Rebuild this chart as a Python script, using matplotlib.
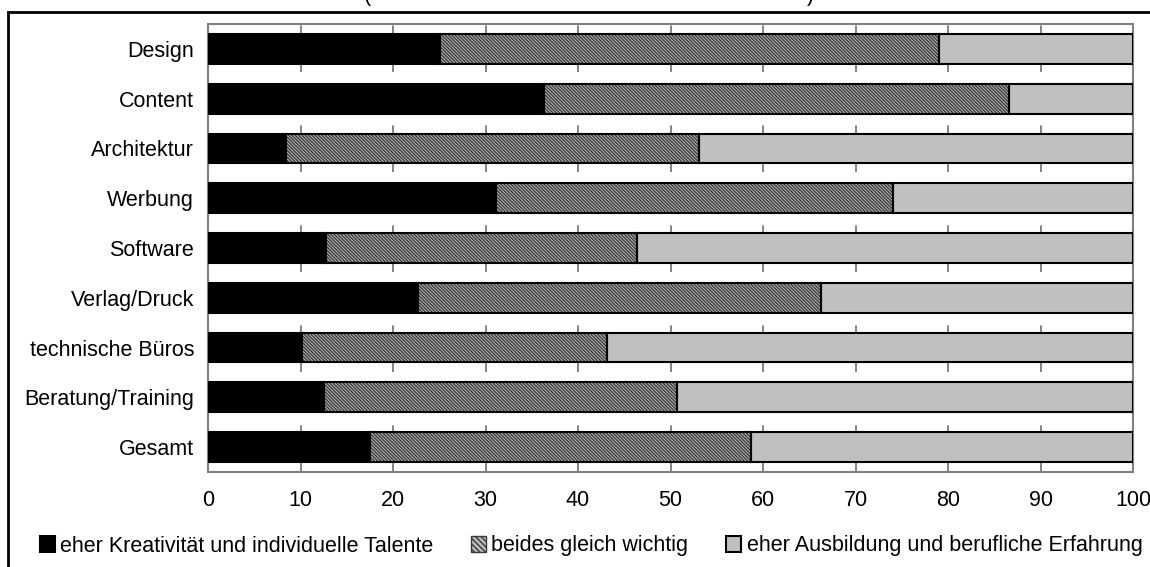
import matplotlib
matplotlib.use("Agg")
import matplotlib.pyplot as plt
import matplotlib.patches as mpatches
import numpy as np

plt.rcParams['font.family'] = ['Liberation Sans', 'DejaVu Sans']
plt.rcParams['hatch.linewidth'] = 1.0

categories = ["Design", "Content", "Architektur", "Werbung", "Software",
              "Verlag/Druck", "technische Büros", "Beratung/Training", "Gesamt"]
kreativ = [25.1, 36.3, 8.4, 31.1, 12.8, 22.7, 10.2, 12.5, 17.5]
beides_cum = [79.0, 86.6, 53.1, 74.1, 46.4, 66.3, 43.1, 50.7, 58.7]
beides = [b - k for b, k in zip(beides_cum, kreativ)]
ausbildung = [100 - b for b in beides_cum]
series_names = ["eher Kreativität und individuelle Talente",
                "beides gleich wichtig",
                "eher Ausbildung und berufliche Erfahrung"]
xticks = list(range(0, 101, 10))

FS = 15.5
W, H = 1150, 567
fig = plt.figure(figsize=(W / 100, H / 100), dpi=100)
ax = fig.add_axes([208 / W, 1 - 472 / H, (1133 - 208) / W, (472 - 24) / H])

y = np.arange(len(categories))
h = 0.6
hatch = '\\\\\\\\\\\\\\\\\\\\'
HFACE, HLINE = '#bcbcbc', '#3a3a3a'
ax.barh(y, kreativ, height=h, color='black', edgecolor='black', linewidth=1.5, zorder=3)
# hatched fill (grey lines) then black outline
ax.barh(y, beides, left=kreativ, height=h, color=HFACE, edgecolor=HLINE,
        hatch=hatch, linewidth=0, zorder=3)
ax.barh(y, beides, left=kreativ, height=h, fill=False, edgecolor='black',
        linewidth=1.5, zorder=4)
ax.barh(y, ausbildung, left=beides_cum, height=h, color='#c0c0c0', edgecolor='black',
        linewidth=1.5, zorder=3)

ax.set_xlim(0, 100)
ax.set_ylim(len(categories) - 0.5, -0.5)
ax.set_yticks(y)
ax.set_yticklabels(categories, fontsize=FS)
ax.set_xticks(xticks)
ax.set_xticklabels([str(t) for t in xticks], fontsize=FS)
ax.tick_params(axis='x', length=0, pad=13)
ax.tick_params(axis='y', length=0, pad=10)
ax.xaxis.grid(True, color='#707070', linewidth=1.2, linestyle=(0, (8, 12)), zorder=1)
ax.set_axisbelow(True)
for s in ax.spines.values():
    s.set_color('#808080')
    s.set_linewidth(1.5)

# outer frame
fig.patches.append(mpatches.Rectangle((8 / W, -0.2), 1.2, 0.2 + (1 - 12 / H),
                                      transform=fig.transFigure, fill=False,
                                      edgecolor='black', linewidth=2))
# clipped title remnants (only the bottoms of the parentheses are visible)
fig.text(367 / W, 1 - 1 / H, "(", fontsize=FS, ha='center', va='baseline')
fig.text(810 / W, 1 - 1 / H, ")", fontsize=FS, ha='center', va='baseline')

h1 = mpatches.Patch(facecolor='black', edgecolor='black', linewidth=1.5)
h2 = mpatches.Patch(facecolor=HFACE, edgecolor=HLINE, hatch='\\\\\\\\\\\\', linewidth=1.0)
h3 = mpatches.Patch(facecolor='#c0c0c0', edgecolor='black', linewidth=1.5)
fig.legend([h1, h2, h3], series_names, loc='center',
           bbox_to_anchor=(591 / W, 1 - 546 / H), ncol=3,
           frameon=False, fontsize=FS, handlelength=0.7, handleheight=0.7,
           handletextpad=0.25, columnspacing=1.75, borderaxespad=0)

fig.savefig("out.png", dpi=100)
